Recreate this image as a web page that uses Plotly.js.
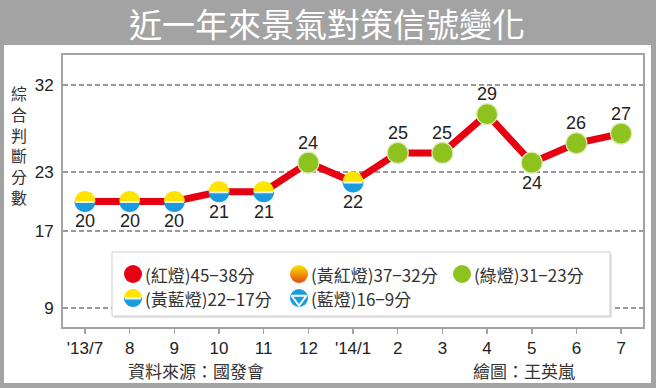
<!DOCTYPE html>
<html><head><meta charset="utf-8">
<script src="https://cdn.plot.ly/plotly-3.0.1.min.js"></script>
<style>html,body{margin:0;padding:0;background:#fff}#chart{width:656px;height:388px}</style>
</head><body><div id="chart"></div>
<script>
// ---- data ----
const months = ["'13/7","8","9","10","11","12","'14/1","2","3","4","5","6","7"];
const scores = [20,20,20,21,21,24,22,25,25,29,24,26,27];
const labelSide = ["below","below","below","below","below","above","below","above","above","above","below","above","above"];
const yTicks = [9,17,23,32];
const signalNames = ["(紅燈)45−38分","(黃紅燈)37−32分","(綠燈)31−23分","(黃藍燈)22−17分","(藍燈)16−9分"];
const signalMin = [38,32,23,17,9];
const signalMax = [45,37,31,22,16];
const chartTitle = "近一年來景氣對策信號變化";
const yTitle = "綜合判斷分數";
const sourceNote = "資料來源：國發會";
const authorNote = "繪圖：王英嵐";

// ---- style / layout constants ----
const W = 656, H = 388, ML = 63, MR = 13, MT = 55, MB = 61;
const PW = W - ML - MR, PH = H - MT - MB;
const XR = [-0.4925, 12.49], YR = [7.06, 35.1];
const px2x = p => (p - ML) / PW;
const px2y = p => (H - MB - p) / PH;
const px2dx = p => XR[0] + px2x(p) * (XR[1] - XR[0]);
const px2dy = p => YR[0] + px2y(p) * (YR[1] - YR[0]);
const RED = '#e60012', GREEN = '#8dc21f', YELLOW = '#ffe400', BLUE = '#1a9be0', GRAY = '#a3a3a3';
const numFont = 'Liberation Sans Narrow, Arial Narrow, Liberation Sans, Arial, sans-serif';
const tickFont = 'Liberation Sans, Arial, sans-serif';
const cjk = 'Noto Sans CJK TC, Noto Sans CJK SC, sans-serif';

const idx = months.map((m, i) => i);
const signalOf = s => signalMin.findIndex((mn, k) => s >= mn && s <= signalMax[k]);
const sig = scores.map(signalOf);

// half discs drawn with cubic Beziers (pixel offsets, y positive = up)
function halfDisc(r, up) {
  const k = 0.5523 * r, s = up ? 1 : -1;
  return `M${-r},0 C${-r},${s*k} ${-k},${s*r} 0,${s*r} C${k},${s*r} ${r},${s*k} ${r},0 Z`;
}
function yellowBlue(xa, ya, r) {
  const base = {type:'path', xref:'x', yref:'y', xsizemode:'pixel', ysizemode:'pixel', xanchor:xa, yanchor:ya, layer:'above'};
  return [
    Object.assign({}, base, {path:halfDisc(r, false), fillcolor:BLUE, line:{width:0}}),
    Object.assign({}, base, {path:halfDisc(r, true), fillcolor:YELLOW, line:{width:0}}),
    Object.assign({}, base, {path:`M${-r+1},-0.5 L${r-1},-0.5`, line:{width:2, color:'rgba(255,255,235,0.9)'}})
  ];
}

const traces = [];
traces.push({x: idx, y: scores, type:'scatter', mode:'lines', line:{color:RED, width:7}, hoverinfo:'skip', showlegend:false});
const gi = idx.filter(i => sig[i] === 2);
traces.push({x: gi, y: gi.map(i => scores[i]), type:'scatter', mode:'markers',
  marker:{symbol:'circle', size:21, color:GREEN, line:{color:'#dcebb0', width:1.2}}, hoverinfo:'skip', showlegend:false, cliponaxis:false});

// legend key positions (pixels)
const legX = [133, 299, 462, 133, 299];
const legY = [274, 274, 274, 298, 298];
traces.push({x:[legX[0]], y:[legY[0]], xaxis:'x2', yaxis:'y2', type:'scatter', mode:'markers',
  marker:{size:18, color:RED}, hoverinfo:'skip', showlegend:false});
traces.push({x:[legX[1]], y:[legY[1]], xaxis:'x2', yaxis:'y2', type:'scatter', mode:'markers',
  marker:{size:18, color:YELLOW, gradient:{type:'vertical', color:'#e2480f'}}, hoverinfo:'skip', showlegend:false});
traces.push({x:[legX[2]], y:[legY[2]], xaxis:'x2', yaxis:'y2', type:'scatter', mode:'markers',
  marker:{size:18, color:GREEN}, hoverinfo:'skip', showlegend:false});
traces.push({x:[legX[4]], y:[legY[4]], xaxis:'x2', yaxis:'y2', type:'scatter', mode:'markers',
  marker:{size:18, color:BLUE}, hoverinfo:'skip', showlegend:false});
traces.push({x:[legX[4]], y:[legY[4]+1], xaxis:'x2', yaxis:'y2', type:'scatter', mode:'markers',
  marker:{symbol:'triangle-down-open', size:13, color:'white', line:{color:'white', width:2}}, hoverinfo:'skip', showlegend:false});

const shapes = [];
// white inner panel
shapes.push({type:'rect', xref:'paper', yref:'paper', x0:px2x(4), x1:px2x(651), y0:px2y(383), y1:px2y(45),
  fillcolor:'white', line:{width:0}, layer:'below'});
// legend box + shadow (between gridlines and traces)
shapes.push({type:'rect', xref:'x', yref:'y', x0:px2dx(114), x1:px2dx(612), y0:px2dy(318), y1:px2dy(254),
  fillcolor:'#e4e4e4', line:{width:0}, layer:'between'});
shapes.push({type:'rect', xref:'x', yref:'y', x0:px2dx(112), x1:px2dx(610), y0:px2dy(316), y1:px2dy(252),
  fillcolor:'white', line:{width:1, color:'#cfcfcf'}, layer:'between'});
// yellow-blue half-circle data markers
idx.forEach(i => { if (sig[i] === 3) shapes.push(...yellowBlue(i, scores[i], 10.5)); });
// legend yellow-blue key
shapes.push(...yellowBlue(px2dx(legX[3]), px2dy(legY[3]), 9));

const annotations = [];
idx.forEach(i => annotations.push({x:i, y:scores[i], xref:'x', yref:'y', text:String(scores[i]), showarrow:false,
  yshift: labelSide[i] === 'above' ? 20 : -20, font:{family:numFont, size:18, color:'#222'}}));
signalNames.forEach((t, k) => annotations.push({x:legX[k] + 10, y:legY[k], xref:'x2', yref:'y2', text:t, showarrow:false,
  xanchor:'left', yanchor:'middle', font:{family:cjk, size:17, color:'#333'}}));
annotations.push({xref:'paper', yref:'paper', x:px2x(19), y:px2y(145), text:yTitle.split('').join('<br>'), showarrow:false,
  xanchor:'center', yanchor:'middle', font:{family:cjk, size:16, color:'#333'}});
annotations.push({xref:'paper', yref:'paper', x:px2x(196), y:px2y(370), text:sourceNote, showarrow:false,
  xanchor:'center', yanchor:'middle', font:{family:cjk, size:17, color:'#333'}});
annotations.push({xref:'paper', yref:'paper', x:px2x(524), y:px2y(370), text:authorNote, showarrow:false,
  xanchor:'center', yanchor:'middle', font:{family:cjk, size:17, color:'#333'}});

const layout = {
  width: W, height: H,
  margin: {l:ML, r:MR, t:MT, b:MB, pad:0},
  paper_bgcolor: GRAY, plot_bgcolor: 'white',
  showlegend: false,
  title: {text: chartTitle, x: 327/W, xref:'container', xanchor:'center', y: 1 - 25/H, yref:'container', yanchor:'middle',
    font:{family:cjk, size:33, color:'white'}},
  xaxis: {range:XR, tickvals: idx, ticktext: months, ticks:'outside', ticklen:5, tickwidth:1.5, tickcolor:GRAY,
    showline:true, linecolor:GRAY, linewidth:2, mirror:true, showgrid:false, zeroline:false,
    tickfont:{family:tickFont, size:17, color:'#222'}, fixedrange:true},
  yaxis: {range:YR, tickvals: yTicks, ticks:'', showline:true, linecolor:GRAY, linewidth:2, mirror:true,
    showgrid:true, gridcolor:'#9a9a9a', gridwidth:2, griddash:'5px,3px', zeroline:false,
    tickfont:{family:tickFont, size:17, color:'#222'}, ticklabelstandoff:4, fixedrange:true},
  xaxis2: {overlaying:'x', anchor:'y2', range:[ML, W - MR], visible:false, fixedrange:true},
  yaxis2: {overlaying:'y', anchor:'x2', range:[H - MB, MT], visible:false, fixedrange:true},
  shapes, annotations
};
Plotly.newPlot('chart', traces, layout, {staticPlot:true, displayModeBar:false});
</script></body></html>
